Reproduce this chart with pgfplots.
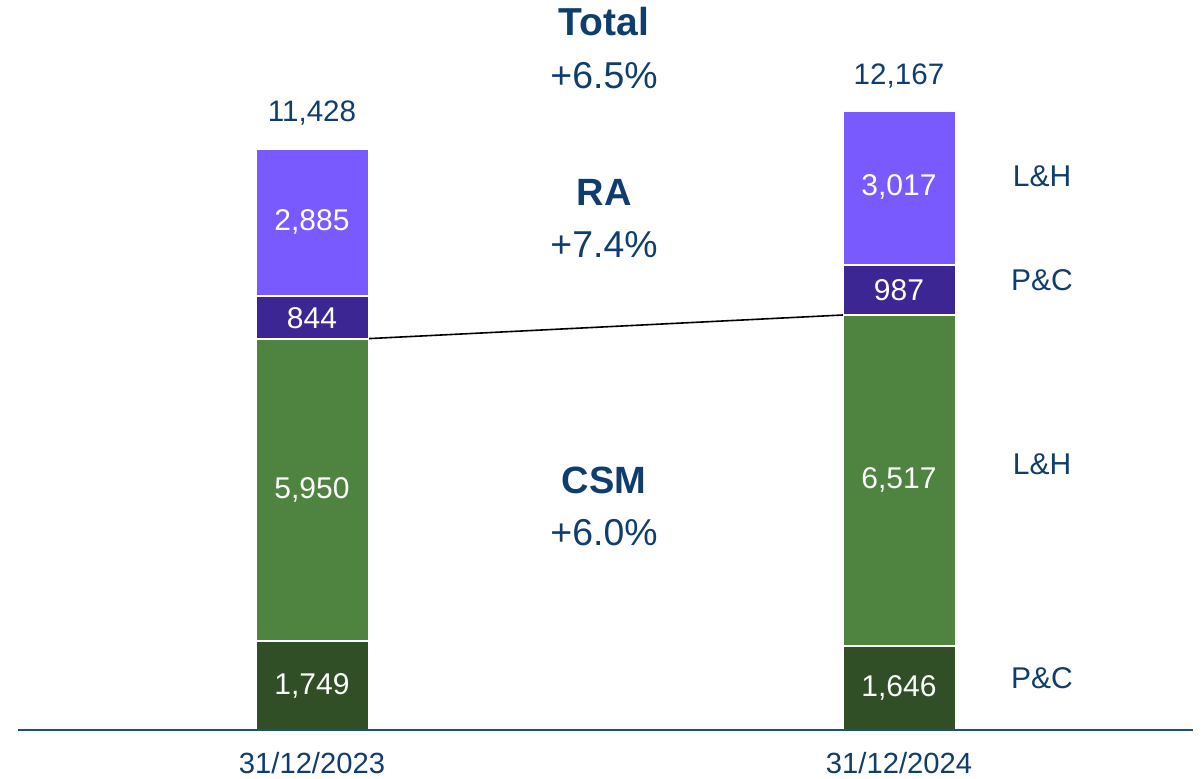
\documentclass[border=0pt]{standalone}
\usepackage{fontspec}
\setmainfont{Liberation Sans}
\usepackage{pgfplots}
\pgfplotsset{compat=1.18}
\definecolor{txt}{HTML}{0F3E6E}
\definecolor{lpur}{HTML}{785AFF}
\definecolor{dpur}{HTML}{3B2694}
\definecolor{lgrn}{HTML}{4E843F}
\definecolor{dgrn}{HTML}{304F26}
\definecolor{axl}{HTML}{1F4E84}
\begin{document}
\begin{tikzpicture}[x=0.5pt,y=0.5pt]
\useasboundingbox (0,0) rectangle (1203,778);
\begin{axis}[
  at={(9pt,24pt)}, anchor=south west,
  scale only axis, width=587.5pt, height=365pt,
  xmin=-0.5017, xmax=1.5, ymin=0, ymax=14359,
  ybar stacked, bar width=56.5pt,
  axis lines=none,
  clip=false,
]
\addplot[fill=dgrn, draw=white, line width=1pt] coordinates {(0,1749) (1,1646)};
\addplot[fill=lgrn, draw=white, line width=1pt] coordinates {(0,5950) (1,6517)};
\addplot[fill=dpur, draw=white, line width=1pt] coordinates {(0,844) (1,987)};
\addplot[fill=lpur, draw=white, line width=1pt] coordinates {(0,2885) (1,3017)};
\end{axis}
\begin{axis}[
  at={(9pt,24pt)}, anchor=south west,
  scale only axis, width=587.5pt, height=365pt,
  xmin=-0.5017, xmax=1.5, ymin=0, ymax=14359,
  axis y line=none, axis x line*=bottom,
  x axis line style={draw=axl, line width=1pt, -},
  xtick=\empty, clip=false,
]
\addplot[black, line width=0.8pt, mark=none] coordinates {(0.0963,7699) (0.9037,8163)};
\end{axis}
% text (positions in px from top-left)
\begin{scope}[every node/.style={text=txt, font=\fontsize{14.8}{17}\selectfont}]
\node at (312,778-113) {11,428};
\node at (899,778-76) {12,167};
\node[font=\fontsize{19.5}{22}\selectfont\bfseries] at (604,778-22) {Total};
\node[font=\fontsize{18.7}{22}\selectfont] at (604,778-76) {+6.5\%};
\node[font=\fontsize{19}{22}\selectfont\bfseries] at (604,778-192) {RA};
\node[font=\fontsize{18.7}{22}\selectfont] at (604,778-245) {+7.4\%};
\node[font=\fontsize{19}{22}\selectfont\bfseries] at (604,778-480) {CSM};
\node[font=\fontsize{18.7}{22}\selectfont] at (604,778-533) {+6.0\%};
\node[font=\fontsize{15}{17}\selectfont] at (1042,778-176) {L\&H};
\node[font=\fontsize{15}{17}\selectfont] at (1042,778-280) {P\&C};
\node[font=\fontsize{15}{17}\selectfont] at (1042,778-464) {L\&H};
\node[font=\fontsize{15}{17}\selectfont] at (1042,778-678) {P\&C};
\node[font=\fontsize{14.6}{17}\selectfont] at (312,778-763) {31/12/2023};
\node[font=\fontsize{14.6}{17}\selectfont] at (899,778-763) {31/12/2024};
\end{scope}
\begin{scope}[every node/.style={text=white, font=\fontsize{15}{17}\selectfont}]
\node at (312,778-222) {2,885};
\node at (312,778-318) {844};
\node at (312,778-490) {5,950};
\node at (312,778-686) {1,749};
\node at (899,778-187) {3,017};
\node at (899,778-290) {987};
\node at (899,778-480) {6,517};
\node at (899,778-688) {1,646};
\end{scope}
\end{tikzpicture}
\end{document}
